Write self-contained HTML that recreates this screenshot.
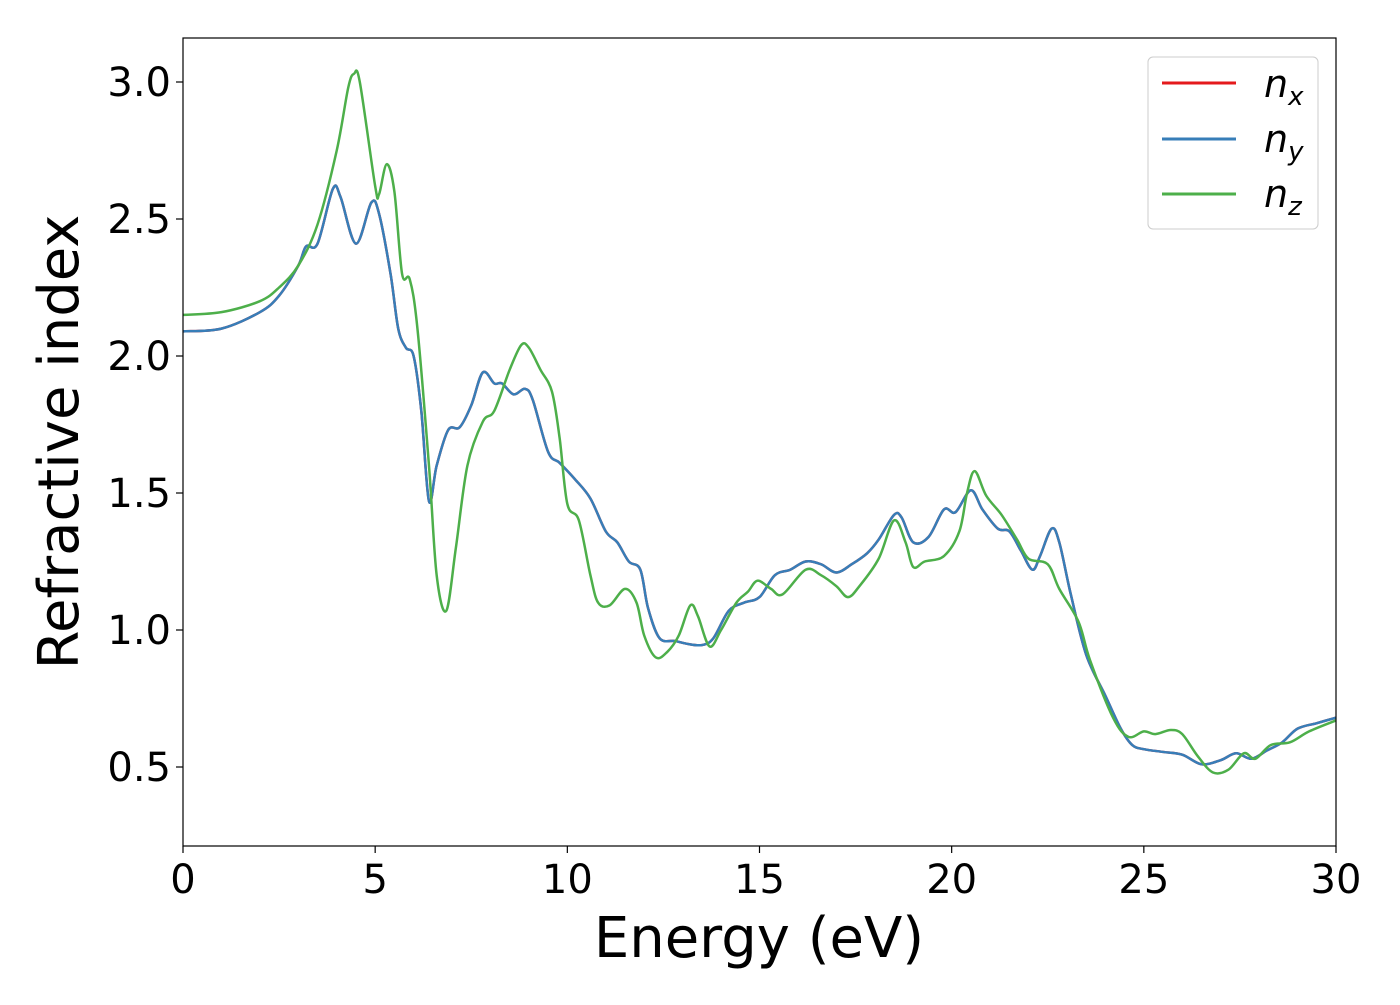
<!DOCTYPE html>
<html><head><meta charset="utf-8"><style>
body{margin:0;background:#fff}
svg text{font-family:"DejaVu Sans","Liberation Sans",sans-serif;fill:#000}
</style></head><body>
<svg width="1400" height="1000" viewBox="0 0 1400 1000">
<rect x="0" y="0" width="1400" height="1000" fill="#fff"/>
<g id="plot"></g>
<g id="axes"></g>
<text x="759" y="957" font-size="56" text-anchor="middle">Energy (eV)</text>
<text transform="translate(78,442) rotate(-90)" font-size="56" text-anchor="middle">Refractive index</text>
<g>
<rect x="1148" y="57" width="170" height="172" rx="5" fill="#fff" fill-opacity="0.8" stroke="#ccc"/>
<line x1="1162" y1="83" x2="1236" y2="83" stroke="#e41a1c" stroke-width="3"/>
<text x="1264" y="97" font-size="38" font-style="italic">n<tspan font-size="26" dy="8">x</tspan></text>
<line x1="1162" y1="139" x2="1236" y2="139" stroke="#377eb8" stroke-width="3"/>
<text x="1264" y="152" font-size="38" font-style="italic">n<tspan font-size="26" dy="8">y</tspan></text>
<line x1="1162" y1="194" x2="1236" y2="194" stroke="#4daf4a" stroke-width="3"/>
<text x="1264" y="207" font-size="38" font-style="italic">n<tspan font-size="26" dy="8">z</tspan></text>
</g>
</svg>
<script>
const xTicks=[0,5,10,15,20,25,30];
const yTicks=[0.5,1.0,1.5,2.0,2.5,3.0];
const energyXY=[0,1,2,2.5,3,3.2,3.5,3.9,4.1,4.5,4.9,5.1,5.4,5.6,5.8,6.0,6.2,6.4,6.6,6.9,7.2,7.5,7.8,8.1,8.3,8.6,8.9,9.1,9.5,9.8,10.2,10.6,11.0,11.3,11.6,11.9,12.1,12.4,12.8,13.1,13.5,13.8,14.2,14.6,15.0,15.4,15.8,16.2,16.6,17.0,17.4,17.8,18.1,18.5,18.7,19.0,19.4,19.8,20.1,20.5,20.8,21.2,21.5,21.8,22.1,22.3,22.6,22.8,23.1,23.5,24.0,24.4,24.7,25.0,25.5,26.0,26.5,27.0,27.4,27.8,28.2,28.6,29.0,29.5,30];
const nyValues=[2.09,2.10,2.16,2.22,2.33,2.40,2.41,2.61,2.58,2.41,2.56,2.52,2.3,2.1,2.03,2.0,1.8,1.47,1.6,1.73,1.74,1.82,1.94,1.90,1.90,1.86,1.88,1.84,1.65,1.61,1.55,1.48,1.36,1.32,1.25,1.22,1.08,0.97,0.96,0.95,0.945,0.97,1.07,1.10,1.12,1.20,1.22,1.25,1.24,1.21,1.24,1.28,1.33,1.42,1.41,1.32,1.34,1.44,1.43,1.51,1.44,1.37,1.36,1.29,1.22,1.27,1.37,1.32,1.13,0.91,0.76,0.64,0.58,0.565,0.555,0.545,0.51,0.525,0.55,0.53,0.56,0.59,0.64,0.66,0.68];
const nxValues=nyValues.slice();
const energyZ=[0,1,2,2.5,3,3.5,4.0,4.3,4.45,4.6,5.0,5.1,5.3,5.5,5.7,5.9,6.1,6.4,6.6,6.85,7.1,7.4,7.8,8.1,8.5,8.8,9.0,9.3,9.6,9.8,10.0,10.3,10.6,10.8,11.1,11.5,11.8,12.0,12.3,12.6,12.9,13.2,13.4,13.7,14.0,14.4,14.7,14.95,15.3,15.6,16.2,16.6,17.0,17.3,17.6,18.1,18.5,18.8,19.0,19.3,19.8,20.2,20.4,20.6,20.9,21.3,21.7,22.0,22.5,22.8,23.3,23.6,24.2,24.6,25.0,25.3,25.7,26.0,26.4,26.8,27.2,27.6,27.9,28.3,28.8,29.3,30];
const nzValues=[2.15,2.16,2.20,2.25,2.33,2.48,2.75,2.98,3.03,3.0,2.62,2.59,2.70,2.6,2.3,2.28,2.1,1.6,1.2,1.07,1.3,1.6,1.76,1.8,1.95,2.04,2.03,1.95,1.87,1.70,1.46,1.40,1.2,1.1,1.09,1.15,1.10,0.98,0.90,0.92,0.98,1.09,1.05,0.94,1.00,1.10,1.14,1.18,1.15,1.13,1.22,1.2,1.16,1.12,1.16,1.26,1.40,1.32,1.23,1.25,1.27,1.36,1.50,1.58,1.49,1.42,1.33,1.26,1.24,1.15,1.03,0.89,0.68,0.61,0.63,0.62,0.635,0.62,0.54,0.48,0.49,0.55,0.53,0.58,0.59,0.63,0.67];
const NS='http://www.w3.org/2000/svg';
const X0=183,X1=1336,Y0=38,Y1=846;
const sx=v=>X0+(v-0)/30*(X1-X0);
const sy=v=>767-(v-0.5)*274;
function mk(t,a,p){const e=document.createElementNS(NS,t);for(const k in a)e.setAttribute(k,a[k]);p.appendChild(e);return e;}
function pathD(xs,ys){const p=xs.map((x,i)=>[sx(x),sy(ys[i])]);let d='M'+p[0][0]+','+p[0][1];
for(let i=0;i<p.length-1;i++){const a=p[Math.max(0,i-1)],b=p[i],c=p[i+1],e=p[Math.min(p.length-1,i+2)];
d+=' C'+(b[0]+(c[0]-a[0])/6)+','+(b[1]+(c[1]-a[1])/6)+' '+(c[0]-(e[0]-b[0])/6)+','+(c[1]-(e[1]-b[1])/6)+' '+c[0]+','+c[1];}return d;}
const plot=document.getElementById('plot'),axes=document.getElementById('axes');
const series=[[energyXY,nxValues,'#e41a1c','series-nx'],[energyXY,nyValues,'#377eb8','series-ny'],[energyZ,nzValues,'#4daf4a','series-nz']];
series.forEach(s=>{const el=mk('path',{d:pathD(s[0],s[1]),fill:'none',stroke:s[2],'stroke-width':2.5},plot);

});
const fr=mk('rect',{x:X0,y:Y0,width:X1-X0,height:Y1-Y0,fill:'none',stroke:'#000','stroke-width':1.2},axes);


xTicks.forEach(t=>{const x=sx(t);mk('line',{x1:x,y1:Y1,x2:x,y2:Y1+7,stroke:'#000','stroke-width':1.2},axes);
const tx=mk('text',{x:x,y:Y1+47,'font-size':40,'text-anchor':'middle'},axes);tx.textContent=t;

});
yTicks.forEach(t=>{const y=sy(t);mk('line',{x1:X0-7,y1:y,x2:X0,y2:y,stroke:'#000','stroke-width':1.2},axes);
const tx=mk('text',{x:X0-12,y:y+14,'font-size':40,'text-anchor':'end'},axes);tx.textContent=t.toFixed(1);

});
</script>
</body></html>
